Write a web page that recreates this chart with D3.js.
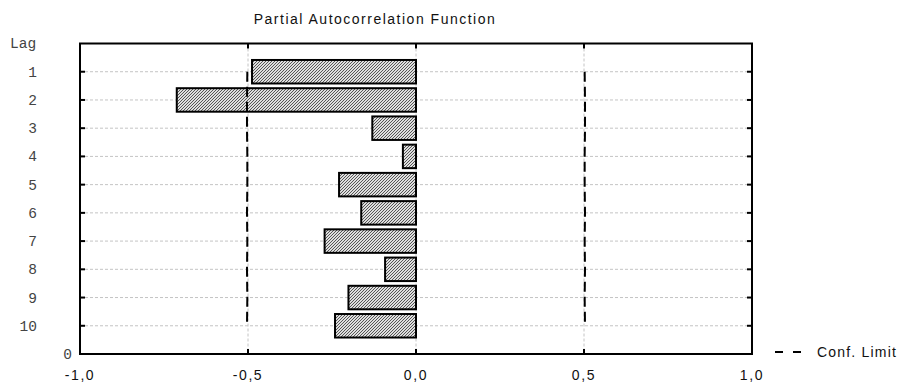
<!DOCTYPE html>
<html>
<head>
<meta charset="utf-8">
<script src="https://cdn.jsdelivr.net/npm/d3@7"></script>
<style>
  html, body { margin: 0; padding: 0; background: #fff; }
  svg { display: block; }
</style>
</head>
<body>
<svg id="chart" width="905" height="386"></svg>
<script>
// Partial autocorrelation by lag
const lags = [1, 2, 3, 4, 5, 6, 7, 8, 9, 10];
const pacf = [-0.488, -0.712, -0.130, -0.039, -0.229, -0.163, -0.272, -0.092, -0.201, -0.241];
// Confidence limits (±) per lag
const confLimit = [0.502, 0.503, 0.503, 0.502, 0.502, 0.503, 0.502, 0.503, 0.502, 0.503];
const xTicks = [-1, -0.5, 0, 0.5, 1];
const xTickLabels = ["-1,0", "-0,5", "0,0", "0,5", "1,0"];
const yTickLabels = ["1", "2", "3", "4", "5", "6", "7", "8", "9", "10"];

(function () {
const svg = d3.select("#chart");
const pL = 80, pR = 752, pT = 43.5, pB = 354;

const x = d3.scaleLinear().domain([-1, 1]).range([pL, pR]);
const y = d3.scaleLinear().domain([0, 11]).range([pT, pB]);

// fine diagonal dither used as bar fill
const defs = svg.append("defs");
const pat = defs.append("pattern")
  .attr("id", "hatch")
  .attr("patternUnits", "userSpaceOnUse")
  .attr("width", 3).attr("height", 3);
pat.append("rect").attr("width", 3).attr("height", 3).attr("fill", "#dedede");
[[0, 2], [1, 1], [2, 0]].forEach(([px, py]) => {
  pat.append("rect").attr("x", px).attr("y", py).attr("width", 1).attr("height", 1)
    .attr("fill", "#555").attr("shape-rendering", "crispEdges");
});

// grid
const grid = svg.append("g");
grid.selectAll("line.h").data(lags).join("line")
  .attr("x1", pL).attr("x2", pR)
  .attr("y1", d => y(d)).attr("y2", d => y(d))
  .attr("stroke", "#c4c4c4").attr("stroke-width", 1)
  .attr("stroke-dasharray", "3,2");
grid.selectAll("line.v").data([-0.5, 0, 0.5]).join("line")
  .attr("x1", d => x(d)).attr("x2", d => x(d))
  .attr("y1", pT).attr("y2", pB)
  .attr("stroke", "#c4c4c4").attr("stroke-width", 1)
  .attr("stroke-dasharray", "3,2");

// bars
const barH = 23.5;
svg.append("g").selectAll("rect").data(lags).join("rect")
  .attr("x", (d, i) => x(Math.min(0, pacf[i])))
  .attr("width", (d, i) => Math.abs(x(pacf[i]) - x(0)))
  .attr("y", d => y(d) - barH / 2)
  .attr("height", barH)
  .attr("fill", "url(#hatch)")
  .attr("stroke", "#000").attr("stroke-width", 2);

// confidence limits
const confLine = d3.line().x(d => x(d[0])).y(d => y(d[1]));
const lower = lags.map((l, i) => [-confLimit[i], l]);
const upper = lags.map((l, i) => [confLimit[i], l]);
[lower, upper].forEach(pts => {
  svg.append("path").attr("d", confLine(pts))
    .attr("fill", "none").attr("stroke", "#000").attr("stroke-width", 2)
    .attr("stroke-dasharray", "10,5");
});

// frame
svg.append("rect")
  .attr("x", pL).attr("y", pT)
  .attr("width", pR - pL).attr("height", pB - pT)
  .attr("fill", "none").attr("stroke", "#000").attr("stroke-width", 2);

// inner ticks
const tk = svg.append("g").attr("stroke", "#000").attr("stroke-width", 2);
lags.forEach(l => {
  tk.append("line").attr("x1", pL).attr("x2", pL + 5).attr("y1", y(l)).attr("y2", y(l));
  tk.append("line").attr("x1", pR - 5).attr("x2", pR).attr("y1", y(l)).attr("y2", y(l));
});
[-0.5, 0, 0.5].forEach(v => {
  tk.append("line").attr("x1", x(v)).attr("x2", x(v)).attr("y1", pT).attr("y2", pT + 5);
  tk.append("line").attr("x1", x(v)).attr("x2", x(v)).attr("y1", pB - 5).attr("y2", pB);
});

const sans = "Liberation Sans, Arial, sans-serif";

// x axis labels
svg.append("g").selectAll("text").data(xTicks).join("text")
  .attr("x", d => x(d)).attr("y", 380)
  .attr("text-anchor", "middle")
  .attr("font-family", sans)
  .attr("font-size", 14).attr("letter-spacing", 1.6)
  .attr("fill", "#111")
  .text((d, i) => xTickLabels[i]);

// y axis labels
const mono = "'Liberation Mono', 'Courier New', monospace";
svg.append("g").selectAll("text").data(lags).join("text")
  .attr("x", 37).attr("y", d => y(d) + 5)
  .attr("text-anchor", "end")
  .attr("font-family", mono).attr("font-size", 14.5)
  .attr("fill", "#444")
  .text((d, i) => yTickLabels[i]);
svg.append("text").attr("x", 72).attr("y", y(11) + 5)
  .attr("text-anchor", "end").attr("font-family", mono).attr("font-size", 14.5)
  .attr("fill", "#444").text("0");
svg.append("text").attr("x", 10).attr("y", 48)
  .attr("font-family", mono).attr("font-size", 14.5)
  .attr("fill", "#444").text("Lag");

// title
svg.append("text").attr("x", 375).attr("y", 24)
  .attr("text-anchor", "middle")
  .attr("font-family", sans)
  .attr("font-size", 14).attr("letter-spacing", 1.5)
  .attr("fill", "#111")
  .text("Partial Autocorrelation Function");

// legend
svg.append("line").attr("x1", 775).attr("x2", 801).attr("y1", 352).attr("y2", 352)
  .attr("stroke", "#000").attr("stroke-width", 2).attr("stroke-dasharray", "8,10");
svg.append("text").attr("x", 817).attr("y", 357)
  .attr("font-family", sans)
  .attr("font-size", 14).attr("letter-spacing", 1.2)
  .attr("fill", "#111")
  .text("Conf. Limit");
})();
</script>
</body>
</html>
